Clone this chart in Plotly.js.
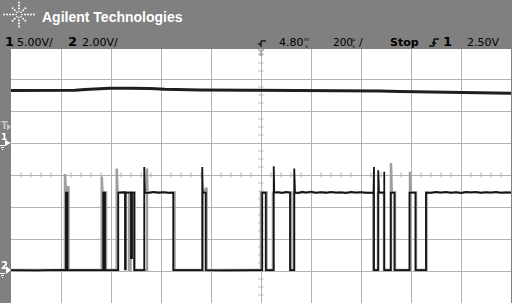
<!DOCTYPE html>
<html><head><meta charset="utf-8">
<script src="https://cdn.plot.ly/plotly-3.0.1.min.js"></script>
<style>html,body{margin:0;padding:0;background:#808080}#c{width:512px;height:303px}</style>
</head><body><div id="c"></div>
<script>
// Channel 1 (5.00 V/div), time in ms
const ch1Time = [3.800,3.916,3.996,4.056,4.096,4.136,4.196,4.276,4.356,4.416,4.476,4.556,4.756,4.956,5.156,5.276,5.356,5.476,5.596,5.716,5.800];
const ch1Volt = [8.20,8.17,8.16,8.23,8.36,8.48,8.55,8.56,8.53,8.38,8.33,8.28,8.23,8.23,8.20,8.13,8.05,7.97,7.92,7.84,7.77];

// Channel 2 (2.00 V/div) main (black) acquisition
const ch2Time = [
3.800,3.900,4.000,4.020,
4.020,4.026,4.026,4.100,
4.169,4.169,4.176,4.176,
4.229,4.229,4.256,4.256,4.259,4.259,4.280,4.280,4.284,4.284,4.293,4.293,
4.333,4.333,4.336,4.350,4.370,4.390,4.410,4.430,4.445,4.449,4.449,
4.500,4.565,4.565,4.567,4.579,4.579,
4.650,4.750,4.805,4.805,4.819,4.819,
4.851,4.851,4.853,4.870,4.885,4.900,4.912,4.916,4.916,
4.933,4.933,4.936,4.950,4.965,4.980,5.000,5.020,5.040,5.060,5.080,5.100,5.120,5.140,5.160,5.180,5.200,5.220,5.240,5.250,5.252,5.252,
5.269,5.269,5.272,5.293,5.293,5.293,
5.319,5.319,5.334,5.334,
5.394,5.394,5.418,5.418,
5.460,5.460,5.480,5.500,5.520,5.540,5.560,5.580,5.600,5.620,5.640,5.660,5.680,5.700,5.720,5.740,5.760,5.780,5.800];
const ch2Volt = [
0.06,0.04,0.07,0.06,
4.90,4.90,0.06,0.05,
0.06,4.90,4.90,0.06,
0.06,4.90,4.92,0.10,0.10,4.90,4.90,0.80,0.80,4.90,4.90,0.06,
0.06,6.50,4.90,4.88,4.94,4.89,4.93,4.88,4.92,4.90,0.06,
0.05,0.06,6.50,4.90,4.90,0.06,
0.04,0.07,0.06,4.90,4.90,0.06,
0.06,6.55,4.90,4.93,4.87,4.94,4.90,4.90,0.06,
0.06,6.40,4.90,4.87,4.95,4.90,4.96,4.88,4.93,4.89,4.95,4.90,4.92,4.87,4.94,4.90,4.93,4.88,4.92,4.90,6.50,0.06,
0.06,6.30,4.90,4.90,6.20,0.06,
0.06,4.90,4.90,0.06,
0.06,4.90,4.90,0.06,
0.06,4.90,4.88,4.94,4.90,4.95,4.88,4.93,4.87,4.94,4.91,4.95,4.88,4.93,4.90,4.94,4.88,4.92,4.90];

// Channel 2 persistence (gray) acquisitions
const ch2GrayTime = [3.800, 4.016,4.016,4.020,4.030,4.030, 4.163,4.163,4.166,4.180,4.180,
4.223,4.223,4.226,4.272,4.272,4.278,4.278,4.294,4.294, 4.344,4.344,4.346,4.454,4.454,
4.568,4.568,4.582,4.582, 4.800,4.800,4.822,4.822, 4.848,4.848,4.920,4.920,4.932,4.932,
5.249,5.249, 5.268,5.268,5.292,5.292, 5.320,5.320,5.323,5.336,5.336,
5.396,5.396,5.399,5.420,5.420, 5.462,5.462,5.800];
const ch2GrayVolt = [0.06, 0.06,6.06,4.90,5.30,0.06, 0.06,5.90,4.90,4.90,0.06,
0.06,6.40,4.90,4.90,0.06,0.06,4.90,4.90,0.06, 0.06,6.40,4.90,4.90,0.06,
0.06,4.90,5.20,0.06, 0.06,4.90,4.90,0.06, 0.06,4.90,4.90,0.06,0.06,4.90,
4.90,0.06, 0.06,4.90,4.90,0.06, 0.06,6.75,4.90,4.90,0.06,
0.06,6.20,4.90,4.90,0.06, 0.06,4.90,4.90];

const headerLabels = {brand:"Agilent Technologies", ch1:"1", ch1Scale:"5.00V/", ch2:"2", ch2Scale:"2.00V/",
  delay:"4.80", delayUnit:"m<br>s", timebase:"200", timebaseUnit:"µ<br>s", run:"Stop", trigSrc:"1", trigLevel:"2.50V"};

// pixel -> paper helpers (plot area: x 11..511, y 47..303)
const X = px => (px-11)/500;
const Y = py => (303-py)/256;

const GRID = '#b2b2b2';
const shapes = [];
function L(x0,y0,x1,y1,color,w,dash,layer){
  shapes.push({type:'line',xref:'paper',yref:'paper',x0:X(x0),y0:Y(y0),x1:X(x1),y1:Y(y1),
    line:{color:color,width:w||1,dash:dash||'solid'},layer:layer||'above'});
}
function P(pts,color){
  let d = pts.map((p,i)=>(i?'L':'M')+X(p[0])+','+Y(p[1])).join(' ')+' Z';
  shapes.push({type:'path',xref:'paper',yref:'paper',path:d,fillcolor:color,line:{width:0},layer:'above'});
}
function C(px,py,r,color){
  shapes.push({type:'circle',xref:'paper',yref:'paper',x0:X(px-r),x1:X(px+r),y0:Y(py+r),y1:Y(py-r),
    fillcolor:color,line:{width:0},layer:'above'});
}
// center graticule minor ticks
for(let k=1;k<50;k++){ if(k%5) L(11+10*k,177.5,11+10*k,172.5,GRID,1,'solid','below'); }
for(let j=1;j<32;j++){ if(j%4) L(258.5,47+8*j,263.5,47+8*j,GRID,1,'solid','below'); }
// gray strip hiding top 2px of plot
shapes.push({type:'rect',xref:'paper',yref:'paper',x0:0,x1:1,y0:Y(49),y1:1,fillcolor:'#808080',line:{width:0},layer:'above'});
// Agilent logo spark (dotted rays)
const cx=19, cy=14.5;
[[1,0,15],[-1,0,15],[0,1,12.5],[0,-1,12.5],[0.707,0.707,11],[-0.707,0.707,11],[0.707,-0.707,11],[-0.707,-0.707,11]].forEach(r=>{
  for(let d=3; d<=r[2]; d+=3){ C(cx+r[0]*d, cy+r[1]*d, d<6?0.8:1.0, '#ffffff'); }
});
// trigger position marker (top)
L(261,41,266,41,'#000',1.2); L(261,41,261,47,'#000',1.2); L(258,44,261,44,'#000',1.2);
L(258,49,261,52,'#9a9a9a',1.2); L(264,49,261,52,'#9a9a9a',1.2); L(261,52,261,56,'#9a9a9a',1.2); L(258.5,54,263.5,54,'#9a9a9a',1);
// trigger slope symbol
L(429,46,434,46,'#000',1.3); L(434,46,434,39,'#000',1.3); L(434,39,439,39,'#000',1.3);
L(432,44,434,41.5,'#000',1.2); L(436,44,434,41.5,'#000',1.2);
// left markers
P([[7,123.5],[11,127],[7,130.5]],'#c4c4c4');
P([[5,140],[11,143],[5,146]],'#ffffff');
L(0,145.5,5,145.5,'#fff',1); L(1,147.5,4,147.5,'#fff',1); L(2,149.5,3,149.5,'#fff',1);
P([[6,266],[11,270],[6,274]],'#ffffff');
L(0,273.5,5,273.5,'#fff',1); L(1,275.5,4,275.5,'#fff',1); L(2,277.5,3,277.5,'#fff',1);

const ann = [];
function A(text,px,py,size,color,family,anchor){
  ann.push({text:text,xref:'paper',yref:'paper',x:X(px),y:Y(py),xanchor:anchor||'left',yanchor:'middle',
    showarrow:false,font:{size:size,color:color,family:family||'DejaVu Sans'},borderpad:0});
}
A('<b>'+headerLabels.brand+'</b>',41,17,14,'#ffffff','Liberation Sans');
A('<b>'+headerLabels.ch1+'</b>',3.5,41.5,13,'#000');
A(headerLabels.ch1Scale,16,42,11,'#000');
A('<b>'+headerLabels.ch2+'</b>',67,41.5,13,'#000');
A(headerLabels.ch2Scale,80.5,42,11,'#000');
A(headerLabels.delay,277.5,42,11,'#000');
A(headerLabels.delayUnit,303,42.5,5,'#000');
A(headerLabels.timebase,331.5,42,10.5,'#000');
A(headerLabels.timebaseUnit,351,42.5,5,'#000');
A('/',357.5,42,11,'#000');
A('<b>'+headerLabels.run+'</b>',389,42,11,'#000');
A('<b>'+headerLabels.trigSrc+'</b>',442,41.5,13,'#000');
A(headerLabels.trigLevel,465.5,42,11,'#000');
A('<b>T</b>',4,125,10,'#c4c4c4','DejaVu Sans','center');
A('<b>1</b>',3.5,136.5,9,'#ffffff','DejaVu Sans','center');
A('<b>2</b>',4,265,10,'#ffffff','DejaVu Sans','center');

const data = [
  {x:ch1Time,y:ch1Volt,mode:'lines',line:{color:'#1e1e1e',width:3},yaxis:'y',hoverinfo:'skip'},
  {x:ch2GrayTime,y:ch2GrayVolt,mode:'lines',line:{color:'#9e9e9e',width:2.5},yaxis:'y2',hoverinfo:'skip'},
  {x:ch2Time,y:ch2Volt,mode:'lines',line:{color:'#141414',width:1.8},yaxis:'y2',hoverinfo:'skip'}
];
const layout = {
  width:512,height:303,margin:{l:11,r:1,t:47,b:0,pad:0},
  paper_bgcolor:'#808080',plot_bgcolor:'#ffffff',showlegend:false,
  xaxis:{range:[3.8,5.8],tick0:3.8,dtick:0.2,showgrid:true,gridcolor:GRID,gridwidth:1,zeroline:false,
    showticklabels:false,ticks:'',showline:false,fixedrange:true},
  yaxis:{range:[-25,15],tick0:0,dtick:5,showgrid:true,gridcolor:GRID,gridwidth:1,zeroline:false,
    showticklabels:false,ticks:'',showline:false,fixedrange:true},
  yaxis2:{range:[-2,14],overlaying:'y',showgrid:false,zeroline:false,showticklabels:false,ticks:'',fixedrange:true},
  shapes:shapes,annotations:ann
};
Plotly.newPlot('c',data,layout,{staticPlot:true,displayModeBar:false});
</script></body></html>
